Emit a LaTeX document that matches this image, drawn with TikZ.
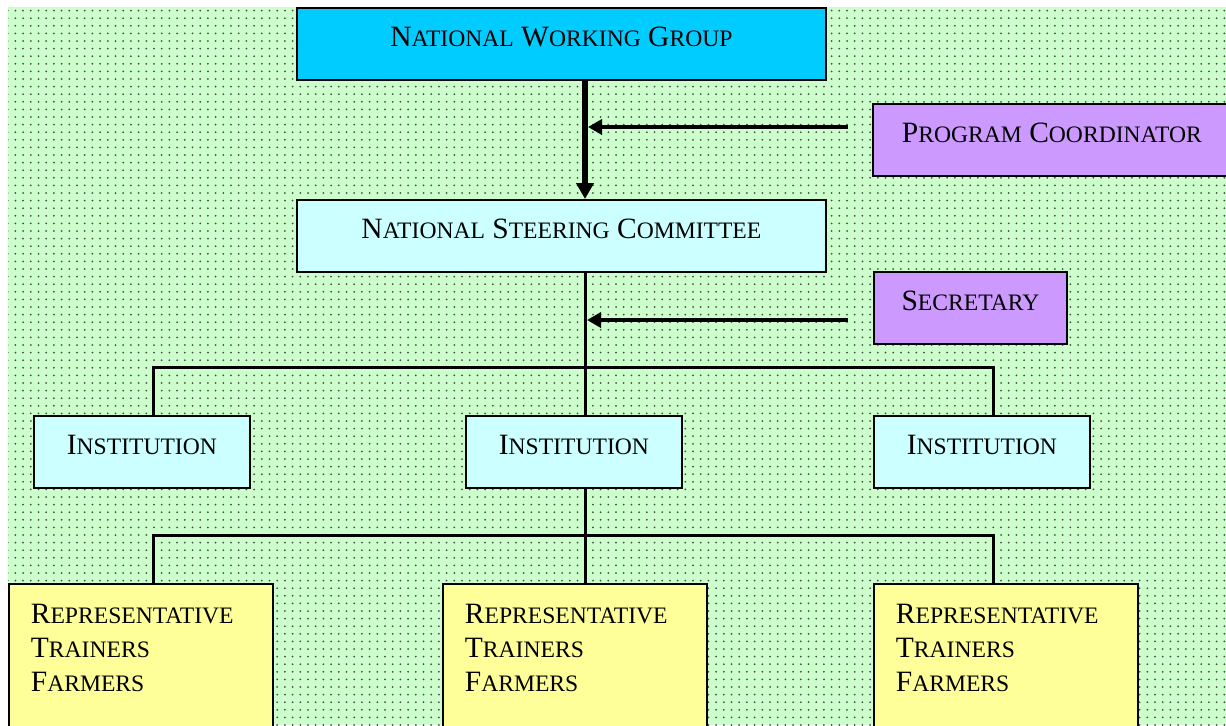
\documentclass[tikz,border=0pt]{standalone}
\usepackage{fontspec}
\setmainfont{Liberation Serif}
\usetikzlibrary{arrows.meta,patterns}

\definecolor{bggreen}{HTML}{CCFFCC}
\definecolor{nwgblue}{HTML}{00CCFF}
\definecolor{paleblue}{HTML}{CCFFFF}
\definecolor{lilac}{HTML}{CC99FF}
\definecolor{repyellow}{HTML}{FFFF99}

% dotted paper
\pgfdeclarepatternformonly{smalldots}{\pgfpoint{-1pt}{-1pt}}{\pgfpoint{1pt}{1pt}}{\pgfpoint{3.85pt}{3.8pt}}{%
  \pgfpathcircle{\pgfpointorigin}{0.5pt}\pgfusepath{fill}}

% first letter big, rest as small capitals
\newcommand{\capsc}[2]{#1{\fontsize{11.8pt}{17pt}\selectfont #2}}

\begin{document}
\begin{tikzpicture}[x=0.5pt,y=-0.5pt,
  box/.style={draw,line width=0.9pt,anchor=north west,inner xsep=0pt,inner ysep=0pt,
    text height=19.3pt,text depth=16.7pt,font=\fontsize{14.75pt}{17pt}\selectfont},
  repbox/.style={draw,line width=0.9pt,fill=repyellow,anchor=north west,align=left,
    text width=110pt,inner xsep=11pt,inner ysep=10pt,text depth=70pt,
    font=\fontsize{14.75pt}{17pt}\selectfont},
  link/.style={line width=1.5pt},
  feed/.style={line width=1.75pt,-{Triangle[length=7pt,width=7.5pt]}}]

% Background
\useasboundingbox (0,0) rectangle (1226,725);
\fill[bggreen] (8,7) rectangle (1226,725);
\fill[pattern=smalldots,pattern color=black!70] (8,7) rectangle (1226,725);

% Boxes
\node[box,fill=nwgblue,minimum width=264.5pt] (nwg) at (296,7) {\capsc{N}{ATIONAL} \capsc{W}{ORKING} \capsc{G}{ROUP}};
\node[box,fill=lilac,minimum width=179pt] (pc) at (872,103) {\capsc{P}{ROGRAM} \capsc{C}{OORDINATOR}};
\node[box,fill=paleblue,minimum width=264.5pt] (nsc) at (296,199) {\capsc{N}{ATIONAL} \capsc{S}{TEERING} \capsc{C}{OMMITTEE}};
\node[box,fill=lilac,minimum width=96.5pt] (sec) at (873,271) {\capsc{S}{ECRETARY}};

\node[box,fill=paleblue,minimum width=108pt] (inst1) at (33,415) {\capsc{I}{NSTITUTION}};
\node[box,fill=paleblue,minimum width=108pt] (inst2) at (465,415) {\capsc{I}{NSTITUTION}};
\node[box,fill=paleblue,minimum width=108pt] (inst3) at (873,415) {\capsc{I}{NSTITUTION}};

\node[repbox] (rep1) at (8,583) {\capsc{R}{EPRESENTATIVE}\\\capsc{T}{RAINERS}\\\capsc{F}{ARMERS}};
\node[repbox] (rep2) at (442,583) {\capsc{R}{EPRESENTATIVE}\\\capsc{T}{RAINERS}\\\capsc{F}{ARMERS}};
\node[repbox] (rep3) at (873,583) {\capsc{R}{EPRESENTATIVE}\\\capsc{T}{RAINERS}\\\capsc{F}{ARMERS}};

% Junctions
\coordinate (mid) at (585,367);
\coordinate (busL) at (153,367);
\coordinate (busR) at (993,367);
\coordinate (lowL) at (153,535);
\coordinate (lowR) at (993,535);
\coordinate (pcTail) at (848,127);
\coordinate (secTail) at (848,320);

% Connectors
\draw[line width=2.6pt,-{Triangle[length=8pt,width=8.5pt]}] (nwg.south -| mid) -- (nsc.north -| mid);
\draw[feed,shorten >=1.5pt] (pcTail) -- (pcTail -| mid);
\draw[link] (nsc.south -| mid) -- (inst2.north -| mid);
\draw[feed,shorten >=1pt] (secTail) -- (secTail -| mid);
\draw[link] (inst1.north -| busL) -- (busL) -- (busR) -- (inst3.north -| busR);
\draw[link] (inst2.south -| mid) -- (rep2.north -| mid);
\draw[link] (rep1.north -| lowL) -- (lowL) -- (lowR) -- (rep3.north -| lowR);

\end{tikzpicture}
\end{document}
